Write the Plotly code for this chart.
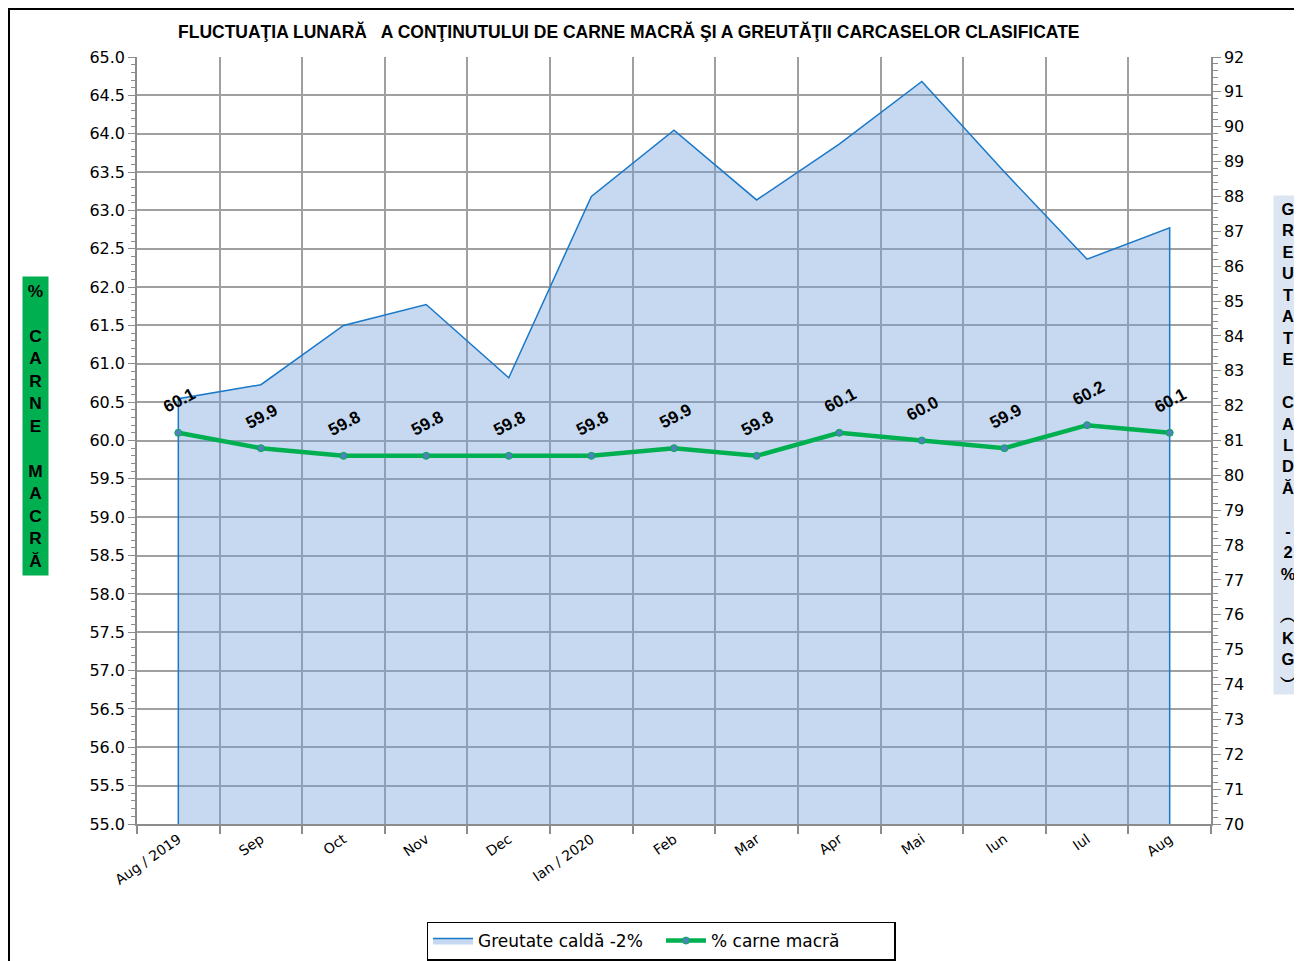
import plotly.graph_objects as go

months = ["Aug / 2019", "Sep", "Oct", "Nov", "Dec", "Ian / 2020", "Feb", "Mar", "Apr", "Mai", "Iun", "Iul", "Aug"]
lean_meat = [60.1, 59.9, 59.8, 59.8, 59.8, 59.8, 59.9, 59.8, 60.1, 60.0, 59.9, 60.2, 60.1]
warm_weight = [82.2, 82.6, 84.3, 84.9, 82.8, 88.0, 89.9, 87.9, 89.5, 91.3, 88.7, 86.2, 87.1]

LEAN_RANGE = [55, 65]
WEIGHT_RANGE = [70, 92]

cat_idx = list(range(len(months)))

# area polygon closes down to the axis minimum at both ends (like Excel's area border)
area_x = [cat_idx[0]] + cat_idx + [cat_idx[-1]]
area_y = [WEIGHT_RANGE[0]] + warm_weight + [WEIGHT_RANGE[0]]

fig = go.Figure()
# area on base y axis (drawn at the bottom), shown on the right side
fig.add_trace(go.Scatter(
    x=area_x, y=area_y, yaxis="y", mode="lines",
    fill="tozeroy", fillcolor="rgba(112,160,220,0.40)",
    line=dict(color="#1a78c8", width=1.5),
    name="Greutate caldă -2%", hoverinfo="skip",
))
# lean meat line on overlaying axis (drawn above), shown on the left side
fig.add_trace(go.Scatter(
    x=cat_idx, y=lean_meat, yaxis="y2", mode="lines+markers",
    line=dict(color="#00b050", width=4.5),
    marker=dict(size=7, color="#4f81bd", line=dict(color="#00b050", width=1)),
    name="% carne macră",
))

for i, v in zip(cat_idx, lean_meat):
    fig.add_annotation(x=i, y=v, xref="x", yref="y2", text=f"{v:.1f}", showarrow=False,
                       textangle=-28, yshift=32, xshift=1,
                       font=dict(family="Arial", size=17, color="black", weight="bold"))

OFF = 8  # page body margin
W, H = 1302 - OFF, 961 - OFF
L = 137 - OFF
R = W - (1211 - OFF)
T = 57 - OFF
B = H - (824 - OFF)
pw, ph = W - L - R, H - T - B

def px(xp):  # page x -> paper x
    return (xp - OFF - L) / pw

def py(yp):  # page y -> paper y
    return (H - B - (yp - OFF)) / ph

# title
fig.add_annotation(xref="paper", yref="paper", x=px(629), y=py(31),
                   text="FLUCTUAŢIA LUNARĂ   A CONŢINUTULUI DE CARNE MACRĂ ŞI A GREUTĂŢII CARCASELOR CLASIFICATE",
                   showarrow=False, xanchor="center", yanchor="middle",
                   font=dict(family="Arial", size=17.5, color="black", weight="bold"))

left_title = "<br>".join(list("%") + [""] + list("CARNE") + [""] + list("MACRĂ"))
fig.add_annotation(xref="paper", yref="paper", x=px(35.5), y=py(426), text=left_title,
                   showarrow=False, xanchor="center", yanchor="middle", align="center",
                   bgcolor="#00b050", borderpad=4, width=17,
                   font=dict(family="Arial", size=17.3, color="black", weight="bold"))

right_title = "<br>".join(list("GREUTATE") + [""] + list("CALDĂ") + [""] + list("-2%") + [""] + ["︵", "K", "G", "︶"])
fig.add_annotation(xref="paper", yref="paper", x=px(1288), y=py(445), text=right_title,
                   showarrow=False, xanchor="center", yanchor="middle", align="center",
                   bgcolor="#dce6f2", borderpad=4, width=20,
                   font=dict(family="Arial", size=16.5, color="black", weight="bold"))

# outer border of the chart
fig.add_shape(type="rect", xref="paper", yref="paper",
              x0=px(OFF + 1), x1=px(1330), y0=py(990), y1=py(OFF + 1),
              line=dict(color="black", width=2), fillcolor="rgba(0,0,0,0)", layer="above")

grid_col = "#a0a0a0"
axis_col = "#8c8c8c"
tick_font = dict(family="DejaVu Sans", size=16, color="black")
fig.update_layout(
    width=W, height=H,
    margin=dict(l=L, r=R, t=T, b=B, autoexpand=False),
    paper_bgcolor="white", plot_bgcolor="white",
    font=dict(family="Arial", color="black"),
    showlegend=True,
    legend=dict(orientation="h", x=px(661), y=py(941), xanchor="center", yanchor="middle",
                bordercolor="black", borderwidth=1.5, bgcolor="white",
                font=dict(family="DejaVu Sans", size=17, color="black"),
                itemwidth=40, entrywidth=178, entrywidthmode="pixels", tracegroupgap=0),
    xaxis=dict(
        tickmode="array", tickvals=cat_idx, ticktext=months,
        range=[-0.5, len(months) - 0.5],
        showgrid=False, tickangle=-35,
        ticks="", showline=True, linecolor=axis_col, linewidth=1.5,
        tickfont=dict(family="DejaVu Sans", size=14, color="black"),
        minor=dict(tickmode="array", tickvals=[i - 0.5 for i in range(len(months) + 1)],
                   showgrid=True, gridcolor=grid_col, gridwidth=1.5,
                   ticks="outside", ticklen=8, tickcolor=axis_col, tickwidth=1.5),
        zeroline=False,
    ),
    yaxis=dict(
        range=WEIGHT_RANGE, dtick=1, side="right",
        showgrid=False, showline=True, linecolor=axis_col, linewidth=1.5,
        ticks="outside", ticklen=8, tickcolor=axis_col,
        minor=dict(dtick=0.2, ticks="outside", ticklen=5, tickcolor=axis_col),
        tickfont=tick_font,
        zeroline=False,
    ),
    yaxis2=dict(
        range=LEAN_RANGE, dtick=0.5, tickformat=".1f", side="left", overlaying="y",
        showgrid=True, gridcolor=grid_col, gridwidth=1.5,
        showline=True, linecolor=axis_col, linewidth=1.5,
        ticks="outside", ticklen=7, tickcolor=axis_col,
        minor=dict(dtick=0.1, ticks="outside", ticklen=4, tickcolor=axis_col),
        tickfont=tick_font,
        zeroline=False,
    ),
)

fig.write_html("out.html")
